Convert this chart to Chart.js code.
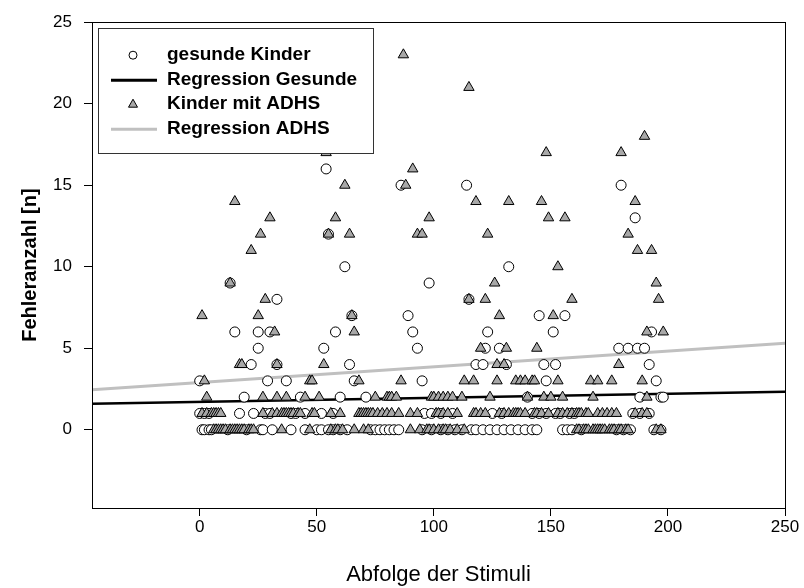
<!DOCTYPE html>
<html lang="de">
<head>
  <meta charset="UTF-8">
  <title>Fehleranzahl</title>
  <style>
    body { margin: 0; padding: 0; background: #fff; }
    #wrap { width: 804px; height: 588px; }
  </style>
  <script src="https://cdn.jsdelivr.net/npm/chart.js"></script>
</head>
<body>
  <div id="wrap"><canvas id="chart" width="804" height="588"></canvas></div>
  <script>
    // [Stimulus, Fehleranzahl]
    const gesundeKinder = [
      [1,0],[2,0],[4,0],[5,0],[12,0],[20,0],[26,0],[27,0],[31,0],[39,0],[45,0],[50,0],[52,0],[55,0],[57,0],
      [60,0],[63,0],[73,0],[75,0],[77,0],[79,0],[81,0],[83,0],[85,0],[95,0],[99,0],[103,0],[106,0],[109,0],
      [112,0],[116,0],[118,0],[121,0],[124,0],[127,0],[130,0],[133,0],[136,0],[139,0],[142,0],[144,0],
      [155,0],[157,0],[159,0],[163,0],[178,0],[181,0],[184,0],[194,0],[197,0],
      [0,1],[2,1],[4,1],[17,1],[23,1],[28,1],[30,1],[39,1],[41,1],[45,1],[52,1],[57,1],[96,1],[99,1],
      [103,1],[108,1],[125,1],[129,1],[142,1],[145,1],[148,1],[152,1],[154,1],[158,1],[160,1],[185,1],
      [188,1],[192,1],
      [19,2],[43,2],[60,2],[71,2],[140,2],[188,2],[197,2],[198,2],
      [0,3],[29,3],[37,3],[66,3],[95,3],[148,3],[195,3],
      [22,4],[33,4],[64,4],[118,4],[121,4],[131,4],[147,4],[152,4],[192,4],
      [25,5],[53,5],[93,5],[122,5],[128,5],[179,5],[183,5],[187,5],[190,5],
      [15,6],[25,6],[30,6],[58,6],[91,6],[123,6],[151,6],[193,6],
      [65,7],[89,7],[145,7],[156,7],
      [33,8],[115,8],
      [13,9],[98,9],
      [62,10],[132,10],
      [55,12],[186,13],
      [86,15],[114,15],[180,15],
      [54,16]
    ];

    const kinderMitADHS = [
      [6,0],[7,0],[8,0],[9,0],[10,0],[11,0],[13,0],[14,0],[15,0],[16,0],[17,0],[18,0],[19,0],[21,0],[22,0],
      [23,0],[35,0],[47,0],[56,0],[58,0],[59,0],[61,0],[66,0],[70,0],[72,0],[90,0],[94,0],[97,0],[98,0],
      [100,0],[102,0],[104,0],[105,0],[107,0],[110,0],[113,0],[161,0],[162,0],[164,0],[165,0],[166,0],
      [168,0],[169,0],[170,0],[171,0],[172,0],[173,0],[175,0],[176,0],[177,0],[179,0],[180,0],[182,0],
      [183,0],[195,0],[197,0],
      [1,1],[3,1],[5,1],[6,1],[7,1],[8,1],[9,1],[27,1],[31,1],[33,1],[35,1],[36,1],[37,1],[38,1],[39,1],
      [40,1],[42,1],[43,1],[48,1],[49,1],[56,1],[60,1],[68,1],[69,1],[70,1],[71,1],[72,1],[73,1],[74,1],
      [76,1],[78,1],[80,1],[82,1],[85,1],[90,1],[93,1],[101,1],[102,1],[104,1],[106,1],[110,1],[117,1],
      [118,1],[120,1],[122,1],[128,1],[130,1],[132,1],[134,1],[135,1],[136,1],[137,1],[139,1],[143,1],
      [144,1],[146,1],[149,1],[153,1],[155,1],[157,1],[159,1],[161,1],[162,1],[163,1],[165,1],[166,1],
      [170,1],[172,1],[174,1],[176,1],[178,1],[186,1],[189,1],[191,1],
      [3,2],[27,2],[33,2],[37,2],[45,2],[51,2],[75,2],[80,2],[81,2],[82,2],[84,2],[99,2],[100,2],[102,2],
      [104,2],[106,2],[108,2],[112,2],[124,2],[140,2],[147,2],[150,2],[155,2],[168,2],[191,2],
      [2,3],[47,3],[48,3],[68,3],[86,3],[113,3],[117,3],[127,3],[135,3],[137,3],[139,3],[142,3],[143,3],
      [153,3],[167,3],[170,3],[176,3],[189,3],
      [17,4],[18,4],[33,4],[53,4],[127,4],[130,4],[179,4],
      [120,5],[131,5],[144,5],
      [32,6],[66,6],[191,6],[198,6],
      [1,7],[25,7],[65,7],[128,7],[151,7],
      [28,8],[115,8],[122,8],[159,8],[196,8],
      [13,9],[126,9],[195,9],
      [153,10],
      [22,11],[187,11],[193,11],
      [26,12],[55,12],[64,12],[93,12],[95,12],[123,12],[183,12],
      [30,13],[58,13],[98,13],[149,13],[156,13],
      [15,14],[118,14],[132,14],[146,14],[186,14],
      [62,15],[88,15],
      [91,16],
      [54,17],[148,17],[180,17],
      [190,18],
      [115,21],
      [87,23]
    ];

    // regression lines, end points at the axis limits
    const regressionX = [-46, 250];
    const regressionGesunde = [1.60, 2.33];
    const regressionADHS = [2.45, 5.30];

    const xMin = -46, xMax = 250;
    const yMin = -4.8, yMax = 25;
    const xTicks = [0, 50, 100, 150, 200, 250];
    const yTicks = [0, 5, 10, 15, 20, 25];

    const legendItems = ['gesunde Kinder', 'Regression Gesunde', 'Kinder mit ADHS', 'Regression ADHS'];

    const FONT = '"Liberation Sans", Arial, sans-serif';
    const TRI_FILL = '#a8a8a8';
    const GREY_LINE = '#c0c0c0';

    // frame round the plot and the boxed legend in the upper left corner
    const frameLegend = {
      id: 'frameLegend',
      afterDraw(chart) {
        const ctx = chart.ctx;
        const a = chart.chartArea;
        ctx.save();
        ctx.strokeStyle = '#000';
        ctx.lineWidth = 1;
        ctx.strokeRect(Math.round(a.left) + 0.5, Math.round(a.top) + 0.5,
          Math.round(a.right - a.left), Math.round(a.bottom - a.top));

        const bx = a.left + 6, by = a.top + 6, bw = 275, bh = 125;
        ctx.fillStyle = '#fff';
        ctx.fillRect(bx, by, bw, bh);
        ctx.strokeStyle = '#333';
        ctx.strokeRect(Math.round(bx) + 0.5, Math.round(by) + 0.5, bw, bh);

        const rows = [27, 52, 76, 101];
        const mx = bx + 35;
        ctx.font = 'bold 19px ' + FONT;
        ctx.textBaseline = 'middle';
        legendItems.forEach((label, i) => {
          const y = by + rows[i];
          ctx.lineWidth = 1;
          ctx.strokeStyle = '#000';
          if (i === 0) {
            ctx.beginPath();
            ctx.arc(mx, y, 4, 0, Math.PI * 2);
            ctx.fillStyle = '#fff';
            ctx.fill();
            ctx.stroke();
          } else if (i === 2) {
            ctx.beginPath();
            ctx.moveTo(mx, y - 5);
            ctx.lineTo(mx + 4.5, y + 3);
            ctx.lineTo(mx - 4.5, y + 3);
            ctx.closePath();
            ctx.fillStyle = TRI_FILL;
            ctx.fill();
            ctx.stroke();
          } else {
            ctx.beginPath();
            ctx.moveTo(bx + 13, y);
            ctx.lineTo(bx + 59, y);
            ctx.lineWidth = 3;
            ctx.strokeStyle = i === 1 ? '#000' : GREY_LINE;
            ctx.stroke();
          }
          ctx.fillStyle = '#000';
          ctx.fillText(label, bx + 69, y);
        });
        ctx.restore();
      }
    };

    const ctx = document.getElementById('chart').getContext('2d');
    new Chart(ctx, {
      type: 'scatter',
      data: {
        datasets: [
          {
            label: legendItems[2],
            data: kinderMitADHS.map(p => ({x: p[0], y: p[1]})),
            pointStyle: 'triangle',
            pointRadius: 6,
            pointBackgroundColor: TRI_FILL,
            pointBorderColor: '#000',
            pointBorderWidth: 1,
            order: 0
          },
          {
            label: legendItems[0],
            data: gesundeKinder.map(p => ({x: p[0], y: p[1]})),
            pointStyle: 'circle',
            pointRadius: 5,
            pointBackgroundColor: '#fff',
            pointBorderColor: '#000',
            pointBorderWidth: 1,
            order: 1
          },
          {
            type: 'line',
            label: legendItems[1],
            data: regressionX.map((x, i) => ({x: x, y: regressionGesunde[i]})),
            borderColor: '#000',
            borderWidth: 2.5,
            pointRadius: 0,
            order: 2
          },
          {
            type: 'line',
            label: legendItems[3],
            data: regressionX.map((x, i) => ({x: x, y: regressionADHS[i]})),
            borderColor: GREY_LINE,
            borderWidth: 3,
            pointRadius: 0,
            order: 3
          }
        ]
      },
      options: {
        responsive: false,
        animation: false,
        layout: { padding: { top: 17, right: 19, left: 0, bottom: 0 } },
        plugins: { legend: { display: false }, tooltip: { enabled: false } },
        scales: {
          x: {
            type: 'linear',
            min: xMin,
            max: xMax,
            afterBuildTicks: s => { s.ticks = xTicks.map(v => ({value: v})); },
            afterFit: s => { s.height = 80; },
            grid: { display: true, drawOnChartArea: false, drawTicks: true, tickLength: 8, color: '#000' },
            border: { display: true, color: '#000' },
            ticks: { color: '#000', font: { family: FONT, size: 17 }, padding: 1, maxRotation: 0 },
            title: { display: true, text: 'Abfolge der Stimuli', color: '#000',
              font: { family: FONT, size: 22 }, padding: { top: 0, bottom: 0 } }
          },
          y: {
            type: 'linear',
            min: yMin,
            max: yMax,
            afterBuildTicks: s => { s.ticks = yTicks.map(v => ({value: v})); },
            afterFit: s => { s.width = 92; },
            grid: { display: true, drawOnChartArea: false, drawTicks: true, tickLength: 8, color: '#000' },
            border: { display: true, color: '#000' },
            ticks: { color: '#000', font: { family: FONT, size: 17 }, padding: 12 },
            title: { display: true, text: 'Fehleranzahl [n]', color: '#000',
              font: { family: FONT, size: 20, weight: 'bold' }, padding: { top: 18, bottom: 0 } }
          }
        }
      },
      plugins: [frameLegend]
    });
  </script>
</body>
</html>
